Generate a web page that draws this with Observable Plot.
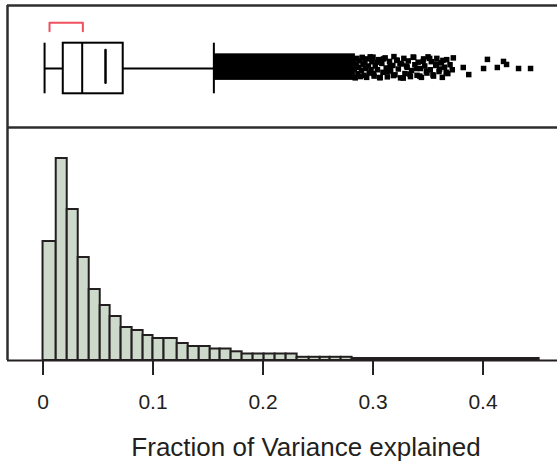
<!DOCTYPE html>
<html><head><meta charset="utf-8">
<script src="https://cdn.jsdelivr.net/npm/d3@7"></script>
<script src="https://cdn.jsdelivr.net/npm/@observablehq/plot@0.6"></script>
<style>
html,body{margin:0;padding:0;background:#fff;overflow:hidden}
#chart{position:relative;width:557px;height:465px}
#chart svg{position:absolute;left:0;top:0;background:transparent}
</style>
</head><body><div id="chart"></div>
<script>
// ---- data ----
const binEdges = [0, 0.012, 0.022, 0.032, 0.042, 0.052, 0.061, 0.071, 0.081, 0.091, 0.100,
  0.110, 0.122, 0.132, 0.142, 0.152, 0.161, 0.171, 0.181, 0.191, 0.201, 0.211, 0.221, 0.231,
  0.242, 0.252, 0.261, 0.271, 0.281, 0.291, 0.301, 0.311, 0.321, 0.331, 0.341, 0.351, 0.361,
  0.371, 0.381, 0.391, 0.401, 0.411, 0.421, 0.431, 0.441, 0.451];
const binCounts = [1190, 2020, 1510, 1030, 710, 550, 440, 330, 300, 250,
  220, 220, 170, 140, 140, 115, 115, 87, 65, 65, 65, 65, 65,
  32, 32, 32, 32, 32,
  20, 20, 20, 20, 20, 20, 20, 20, 20, 20, 20, 20, 20, 20, 20, 20, 20];
const tickValues = [0, 0.1, 0.2, 0.3, 0.4];
const tickLabels = ["0", "0.1", "0.2", "0.3", "0.4"];
const xLabel = "Fraction of Variance explained";

const whiskers = [0.0014, 0.1553];
const quartiles = [0.0184, 0.0729];
const median = [0.0356];
const mean = [0.0568];
const bracket = [0.0059, 0.0362];
const denseOutlierRange = [0.1553, 0.284];
const outlierValues = [
  0.2822, 0.283, 0.2838, 0.2846, 0.2854, 0.2862, 0.287, 0.2878, 0.2886, 0.2894, 0.2902, 0.291,
  0.2918, 0.2926, 0.2934, 0.2942, 0.295, 0.2958, 0.2966, 0.2974, 0.2982, 0.299,
  0.300, 0.301, 0.302, 0.304, 0.305, 0.306, 0.308, 0.309, 0.311, 0.312,
  0.313, 0.315, 0.316, 0.318, 0.319, 0.320, 0.322, 0.323, 0.325, 0.326, 0.328, 0.329, 0.331,
  0.332, 0.334, 0.335, 0.337, 0.338, 0.340, 0.341, 0.343, 0.344, 0.346, 0.347, 0.349, 0.350,
  0.352, 0.353, 0.355, 0.357, 0.358, 0.360, 0.362, 0.363, 0.365, 0.367, 0.368, 0.370, 0.372,
  0.373,
  0.3005, 0.3035, 0.3065, 0.3095, 0.3125, 0.3155, 0.3185, 0.3215, 0.3245, 0.3275, 0.3305, 0.3335,
  0.3365, 0.3395, 0.3425, 0.3455, 0.3485, 0.3515, 0.3545, 0.3575, 0.3605, 0.3635, 0.3665,
  0.382, 0.387, 0.4005, 0.404, 0.413, 0.4186, 0.4214, 0.4323, 0.4432];
const outlierJitter = [
  0.32, -0.02, -0.37, 0.18, 0.40, -0.20, 0.05, 0.30, -0.32, -0.08, 0.44, 0.15,
  -0.27, 0.25, 0.00, -0.35, 0.38, 0.10, -0.18, 0.46, -0.05, 0.27,
  0.45, -0.30, 0.10, -0.05, 0.35, -0.36, 0.20, -0.15, 0.42, 0.02,
  -0.33, 0.28, -0.10, 0.12, 0.47, -0.25, 0.32, -0.02, -0.37, 0.18, 0.40, -0.20, 0.05,
  0.30, -0.32, -0.08, 0.44, 0.15, -0.27, 0.25, 0.00, -0.35, 0.38, 0.10, -0.18, 0.46,
  -0.05, 0.27, -0.30, 0.12, 0.40, -0.12, 0.22, -0.35, 0.05, 0.35, -0.20, 0.15, -0.05,
  0.42,
  -0.20, 0.25, -0.36, 0.38, -0.12, 0.08, -0.28, 0.33, 0.20, -0.38, 0.10, -0.22,
  0.45, 0.00, -0.30, 0.28, -0.10, 0.40, -0.25, 0.18, -0.02, 0.32, -0.15,
  0.04, -0.24, 0.00, 0.36, 0.04, 0.28, 0.16, 0.00, 0.00];

// ---- derived tables ----
const bins = binCounts.map((c, i) => ({x1: binEdges[i], x2: binEdges[i + 1], count: c}));
const outliers = outlierValues.map((v, i) => ({v, j: outlierJitter[i]}));

const xDomain = [-0.0323, 0.4677];
const boxDomain = [-2.332, 2.490];
const font = "'Liberation Sans', Arial, Helvetica, sans-serif";
const ink = "#231f20";
const frameInk = "#2e2e2e";

const boxPanel = Plot.plot({
  width: 557, height: 130,
  marginLeft: 7, marginRight: 0, marginTop: 5, marginBottom: 3,
  style: {fontFamily: font, background: "transparent"},
  x: {domain: xDomain, axis: null},
  y: {domain: boxDomain, axis: null},
  marks: [
    Plot.rect([denseOutlierRange], {x1: d => d[0], x2: d => d[1], y1: -0.47, y2: 0.58, fill: "black"}),
    Plot.dot(outliers, {x: "v", y: "j", symbol: "square", r: 3.1, fill: "black"}),
    Plot.ruleY([0], {x1: whiskers[0], x2: quartiles[0], stroke: "black", strokeWidth: 2}),
    Plot.ruleY([0], {x1: quartiles[1], x2: whiskers[1], stroke: "black", strokeWidth: 2}),
    Plot.ruleX(whiskers, {y1: -1, y2: 1, stroke: "black", strokeWidth: 2}),
    Plot.rect([quartiles], {x1: d => d[0], x2: d => d[1], y1: -1, y2: 1, fill: "white", stroke: "black", strokeWidth: 2}),
    Plot.ruleX(median, {y1: -1, y2: 1, stroke: "black", strokeWidth: 2}),
    Plot.ruleX(mean, {y1: -0.58, y2: 0.71, stroke: "black", strokeWidth: 2.5, strokeLinecap: "round"}),
    Plot.line([[bracket[0], 1.47], [bracket[0], 1.806], [bracket[1], 1.806], [bracket[1], 1.47]],
      {x: d => d[0], y: d => d[1], stroke: "#f0505e", strokeWidth: 2, curve: "linear"}),
    Plot.ruleY([boxDomain[1], boxDomain[0]], {stroke: frameInk, strokeWidth: 2.5}),
    Plot.ruleX([xDomain[0]], {stroke: frameInk, strokeWidth: 2.5})
  ]
});

const histPanel = Plot.plot({
  width: 557, height: 465,
  marginLeft: 7, marginRight: 0, marginTop: 127, marginBottom: 105,
  style: {fontFamily: font, background: "transparent", color: ink},
  x: {domain: xDomain},
  y: {domain: [0, 2330], axis: null},
  marks: [
    Plot.rect(bins, {x1: "x1", x2: "x2", y1: 0, y2: "count", fill: "#cdd9ca", stroke: ink, strokeWidth: 2}),
    Plot.ruleX([xDomain[0]], {stroke: frameInk, strokeWidth: 2.5}),
    Plot.ruleY([0], {stroke: ink, strokeWidth: 2}),
    Plot.axisX({ticks: tickValues, tickFormat: (d, i) => tickLabels[i], tickSize: 15, tickPadding: 19,
      fontSize: 21, strokeWidth: 2, stroke: ink, fill: ink, label: null}),
    Plot.text([xLabel], {text: d => d, frameAnchor: "bottom", dx: 23.5, dy: 87, lineAnchor: "middle",
      fontSize: 26, fill: ink})
  ]
});

const el = document.getElementById("chart");
el.appendChild(boxPanel);
el.appendChild(histPanel);
</script>
</body></html>
